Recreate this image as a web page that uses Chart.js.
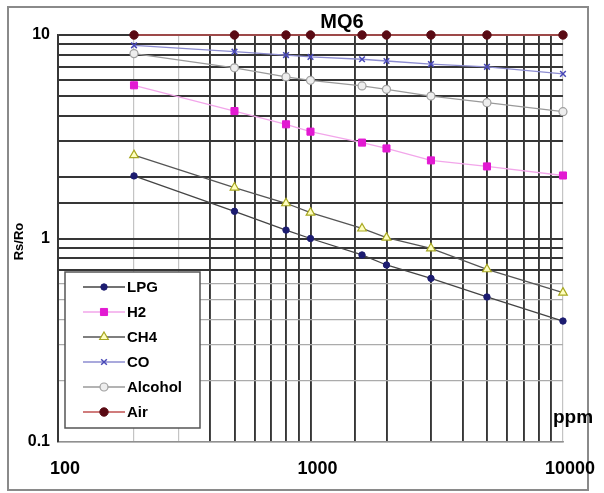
<!DOCTYPE html>
<html>
<head>
<meta charset="utf-8">
<script src="https://cdn.jsdelivr.net/npm/chart.js@4/dist/chart.umd.min.js"></script>
<style>
html,body{margin:0;padding:0;background:#fff;}
#wrap{width:604px;height:493px;position:relative;}
</style>
</head>
<body>
<div id="wrap"><canvas id="c" width="604" height="493"></canvas></div>
<script>
// ---- data ----
const ppm = [200, 500, 800, 1000, 1600, 2000, 3000, 5000, 10000];
const lpg = [2.03, 1.36, 1.10, 1.00, 0.83, 0.741, 0.637, 0.516, 0.393];
const h2 = [5.66, 4.23, 3.64, 3.35, 2.96, 2.77, 2.42, 2.26, 2.04];
const ch4 = [2.57, 1.78, 1.49, 1.34, 1.12, 1.01, 0.895, 0.706, 0.542];
const co = [8.9, 8.28, 7.97, 7.8, 7.6, 7.45, 7.2, 6.98, 6.44];
const alcohol = [8.1, 6.9, 6.22, 5.99, 5.62, 5.41, 5.01, 4.65, 4.2];
const air = [10, 10, 10, 10, 10, 10, 10, 10, 10];
const seriesNames = ['LPG', 'H2', 'CH4', 'CO', 'Alcohol', 'Air'];
const xTickLabels = ['100', '1000', '10000'];
const yTickLabels = ['0.1', '1', '10'];
const titleText = 'MQ6';
const xTitle = 'ppm';
const yTitle = 'Rs/Ro';

const pts = arr => ppm.map((x, i) => ({x: x, y: arr[i]}));

const styles = [
  {line:'#444444', style:'circle', radius:3.2, bg:'#1c1c70', bc:'#1c1c70', bw:1},
  {line:'#f2a6ea', style:'rect', radius:5, bg:'#e21ad2', bc:'#e21ad2', bw:1},
  {line:'#555555', style:'triangle', radius:5, bg:'#ffffc0', bc:'#a8a820', bw:1.2},
  {line:'#8c8cd0', style:'crossRot', radius:4, bg:'#4848b8', bc:'#4848b8', bw:1.5},
  {line:'#9a9a9a', style:'circle', radius:4, bg:'#eeeeee', bc:'#a0a0a0', bw:1.2},
  {line:'#c05050', style:'circle', radius:4.2, bg:'#5a0a14', bc:'#5a0a14', bw:1}
];
const values = [lpg, h2, ch4, co, alcohol, air];

const datasets = seriesNames.map((n, i) => ({
  label: n,
  data: pts(values[i]),
  borderColor: styles[i].line,
  borderWidth: 1.3,
  pointStyle: styles[i].style,
  pointRadius: styles[i].radius,
  pointBackgroundColor: styles[i].bg,
  pointBorderColor: styles[i].bc,
  pointBorderWidth: styles[i].bw,
  clip: false,
  tension: 0
}));

const isPow10 = v => Math.abs(Math.log10(v) - Math.round(Math.log10(v))) < 1e-6;
const lightX = v => v === 200 || v === 300 || v === 10000;

const deco = {
  id: 'deco',
  beforeDraw(chart) {
    const ctx = chart.ctx;
    ctx.save();
    ctx.fillStyle = '#fff';
    ctx.fillRect(0, 0, chart.width, chart.height);
    ctx.strokeStyle = '#8a8a8a';
    ctx.lineWidth = 2;
    ctx.strokeRect(8, 7, 580, 483);
    ctx.restore();
  },
  afterDraw(chart) {
    const ctx = chart.ctx;
    const ca = chart.chartArea;
    ctx.save();
    // title
    ctx.fillStyle = '#000';
    ctx.font = 'bold 20px "Liberation Sans", Arial, sans-serif';
    ctx.textAlign = 'center';
    ctx.textBaseline = 'middle';
    ctx.fillText(titleText, 342, 22);
    // x title
    ctx.font = 'bold 19px "Liberation Sans", Arial, sans-serif';
    ctx.textAlign = 'left';
    ctx.textBaseline = 'alphabetic';
    ctx.fillText(xTitle, ca.right - 10, ca.bottom - 19);
    // y title
    ctx.save();
    ctx.translate(19, (ca.top + ca.bottom) / 2 + 3);
    ctx.rotate(-Math.PI / 2);
    ctx.font = 'bold 13px "Liberation Sans", Arial, sans-serif';
    ctx.textAlign = 'center';
    ctx.textBaseline = 'middle';
    ctx.fillText(yTitle, 0, 0);
    ctx.restore();
    // legend
    const lx = ca.left + 7, ly = 272, lw = 135, lh = 156;
    ctx.fillStyle = '#fff';
    ctx.fillRect(lx, ly, lw, lh);
    ctx.strokeStyle = '#555';
    ctx.lineWidth = 1.5;
    ctx.strokeRect(lx, ly, lw, lh);
    chart.data.datasets.forEach((ds, i) => {
      const y = ly + 15 + i * 25;
      ctx.strokeStyle = ds.borderColor;
      ctx.lineWidth = 1.5;
      ctx.beginPath();
      ctx.moveTo(lx + 18, y);
      ctx.lineTo(lx + 60, y);
      ctx.stroke();
      ctx.fillStyle = ds.pointBackgroundColor;
      ctx.strokeStyle = ds.pointBorderColor;
      ctx.lineWidth = ds.pointBorderWidth;
      Chart.helpers.drawPoint(ctx, {pointStyle: ds.pointStyle, radius: ds.pointRadius, rotation: 0, borderWidth: ds.pointBorderWidth}, lx + 39, y);
      ctx.fillStyle = '#000';
      ctx.font = 'bold 15px "Liberation Sans", Arial, sans-serif';
      ctx.textAlign = 'left';
      ctx.textBaseline = 'middle';
      ctx.fillText(ds.label, lx + 62, y + 1);
    });
    ctx.restore();
  }
};

new Chart(document.getElementById('c'), {
  type: 'line',
  data: { datasets: datasets },
  options: {
    responsive: false,
    animation: false,
    devicePixelRatio: 1,
    layout: { padding: { top: 35, right: 41, left: 0, bottom: 0 } },
    plugins: { legend: { display: false }, title: { display: false }, tooltip: { enabled: false } },
    scales: {
      x: {
        type: 'logarithmic', min: 100, max: 10000,
        afterFit(s) { s.height = 51; },
        border: { display: true, color: '#909090', width: 1.5 },
        grid: {
          drawTicks: false,
          color: c => (c.tick && lightX(c.tick.value)) ? '#c4c4c4' : '#363636',
          lineWidth: c => (c.tick && lightX(c.tick.value)) ? 1.2 : 1.9
        },
        ticks: {
          autoSkip: false, maxRotation: 0, padding: 16, labelOffset: 7,
          color: '#000',
          font: { family: '"Liberation Sans", Arial, sans-serif', size: 18, weight: 'bold' },
          callback: function (v) {
            if (!isPow10(v)) return '';
            const k = Math.round(Math.log10(v)) - 2;
            return xTickLabels[k] || '';
          }
        }
      },
      y: {
        type: 'logarithmic', min: 0.1, max: 10,
        afterFit(s) { s.width = 58; },
        border: { display: true, color: '#363636', width: 1.9 },
        grid: {
          drawTicks: false,
          color: c => (c.tick && c.tick.value < 0.65 && c.tick.value > 0.15) ? '#ababab' : (c.tick && c.tick.value < 0.15 ? '#909090' : '#363636'),
          lineWidth: c => (c.tick && c.tick.value < 0.65) ? 1.2 : 1.9
        },
        ticks: {
          autoSkip: false, padding: 8,
          color: '#000',
          font: { family: '"Liberation Sans", Arial, sans-serif', size: 16, weight: 'bold' },
          callback: function (v) {
            if (!isPow10(v)) return '';
            const k = Math.round(Math.log10(v)) + 1;
            return yTickLabels[k] || '';
          }
        }
      }
    }
  },
  plugins: [deco]
});
</script>
</body>
</html>
